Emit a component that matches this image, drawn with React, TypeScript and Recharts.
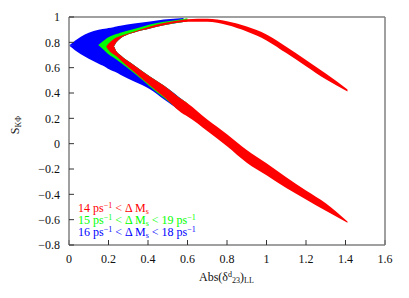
import { ComposedChart, Area, XAxis, YAxis } from "recharts";

// sampled x positions of the band edges, Abs(delta^d_23)_LL
const xs = [0, 0.06, 0.1, 0.15, 0.19, 0.2, 0.225, 0.24, 0.26, 0.33, 0.41, 0.48, 0.58, 0.6, 0.7, 0.8, 0.9, 1.0, 1.1, 1.2, 1.3, 1.41];

// 16 < dMs < 18 (blue)
const blueUpperLo = [0.775, 0.77, 0.768, 0.766, 0.766, 0.766, 0.766, 0.8, 0.83, 0.878, 0.91, 0.935, 0.96];
const blueUpperHi = [0.775, 0.845, 0.875, 0.9, 0.91, 0.913, 0.92, 0.925, 0.93, 0.948, 0.965, 0.98, 0.993];
const blueLowerLo = [0.775, 0.705, 0.67, 0.63, 0.6, 0.59, 0.572, 0.562, 0.545, 0.49, 0.43, 0.35, 0.238];
const blueLowerHi = [0.775, 0.78, 0.772, 0.772, 0.772, 0.772, 0.772, 0.73, 0.7, 0.62, 0.53, 0.46, 0.34];

// 15 < dMs < 19 (green)
const greenUpperLo = [null, null, null, 0.776, 0.766, 0.766, 0.766, 0.8, 0.83, 0.878, 0.91, 0.935, 0.96, 0.965];
const greenUpperHi = [null, null, null, 0.78, 0.83, 0.84, 0.858, 0.865, 0.875, 0.905, 0.94, 0.962, 0.985, 0.99];
const greenLowerLo = [null, null, null, 0.776, 0.72, 0.705, 0.68, 0.665, 0.64, 0.555, 0.45, 0.362, 0.242, 0.225];
const greenLowerHi = [null, null, null, 0.78, 0.772, 0.772, 0.772, 0.73, 0.7, 0.62, 0.53, 0.46, 0.34, 0.32];

// 14 < dMs (red)
const redUpperLo = [null, null, null, null, 0.766, 0.766, 0.766, 0.8, 0.83, 0.878, 0.91, 0.935, 0.96, 0.963, 0.962, 0.936, 0.885, 0.815, 0.715, 0.612, 0.508, 0.412];
const redUpperHi = [null, null, null, null, 0.77, 0.79, 0.825, 0.838, 0.85, 0.885, 0.925, 0.952, 0.978, 0.983, 0.986, 0.966, 0.925, 0.862, 0.765, 0.66, 0.553, 0.428];
const redLowerLo = [null, null, null, null, 0.762, 0.74, 0.705, 0.69, 0.66, 0.565, 0.46, 0.37, 0.232, 0.215, 0.1, -0.02, -0.15, -0.25, -0.35, -0.44, -0.53, -0.625];
const redLowerHi = [null, null, null, null, 0.772, 0.772, 0.772, 0.73, 0.7, 0.62, 0.53, 0.46, 0.34, 0.32, 0.19, 0.075, -0.05, -0.155, -0.265, -0.37, -0.47, -0.615];

const xTicks = [0, 0.2, 0.4, 0.6, 0.8, 1, 1.2, 1.4, 1.6];
const yTicks = [-0.8, -0.6, -0.4, -0.2, 0, 0.2, 0.4, 0.6, 0.8, 1];

const pair = (lo: (number | null)[], hi: (number | null)[], i: number) =>
  lo[i] == null || hi[i] == null ? null : [lo[i], hi[i]];

const data = xs.map((x, i) => ({
  x,
  blueUp: pair(blueUpperLo, blueUpperHi, i),
  blueLow: pair(blueLowerLo, blueLowerHi, i),
  greenUp: pair(greenUpperLo, greenUpperHi, i),
  greenLow: pair(greenLowerLo, greenLowerHi, i),
  redUp: pair(redUpperLo, redUpperHi, i),
  redLow: pair(redLowerLo, redLowerHi, i),
}));

const FONT = "Liberation Serif, Times New Roman, serif";
const tickStyle = { fontFamily: FONT, fontSize: 12, fill: "#111" };
const fmt = (v: number) => (v < 0 ? "\u2212" + Math.abs(v) : String(v));

const sup = { fontSize: 8, position: "relative" as const, top: -4, lineHeight: "8px" };
const sub = { fontSize: 8, position: "relative" as const, top: 2, lineHeight: "8px" };

function LegendLine({ color, top, low, high }: { color: string; top: number; low: string; high?: string }) {
  return (
    <div style={{ position: "absolute", left: 78, top, color, fontFamily: FONT, fontSize: 12, lineHeight: "12px", whiteSpace: "nowrap" }}>
      {low} ps<span style={sup}>{"\u22121"}</span> &lt; Δ M<span style={sub}>s</span>
      {high && (
        <>
          {" "}&lt; {high} ps<span style={sup}>{"\u22121"}</span>
        </>
      )}
    </div>
  );
}

export default function App() {
  const areas = [
    { key: "blueUp", color: "#0000ff" },
    { key: "blueLow", color: "#0000ff" },
    { key: "greenUp", color: "#00ff00" },
    { key: "greenLow", color: "#00ff00" },
    { key: "redUp", color: "#ff0000" },
    { key: "redLow", color: "#ff0000" },
  ];
  return (
    <div style={{ position: "absolute", left: 0, top: 0, width: 409, height: 298, background: "#fff" }}>
      <ComposedChart width={409} height={298} data={data} margin={{ top: 12, right: 19, bottom: 23, left: 9 }}>
        <XAxis
          xAxisId="b"
          dataKey="x"
          type="number"
          domain={[0, 1.6]}
          ticks={xTicks}
          tickFormatter={fmt}
          height={30}
          tickSize={-5}
          tickMargin={14}
          tick={tickStyle}
          axisLine={{ stroke: "#808080", strokeWidth: 1.5 }}
          tickLine={{ stroke: "#333" }}
        />
        <XAxis
          xAxisId="t"
          dataKey="x"
          type="number"
          orientation="top"
          domain={[0, 1.6]}
          ticks={xTicks}
          height={5}
          tickSize={-5}
          tick={false}
          axisLine={{ stroke: "#808080", strokeWidth: 1.5 }}
          tickLine={{ stroke: "#333" }}
        />
        <YAxis
          yAxisId="l"
          type="number"
          domain={[-0.8, 1]}
          ticks={yTicks}
          tickFormatter={fmt}
          width={60}
          tickSize={-5}
          tickMargin={14}
          tick={tickStyle}
          axisLine={{ stroke: "#808080", strokeWidth: 1.5 }}
          tickLine={{ stroke: "#333" }}
        />
        <YAxis
          yAxisId="r"
          type="number"
          orientation="right"
          domain={[-0.8, 1]}
          ticks={yTicks}
          width={5}
          tickSize={-5}
          tick={false}
          axisLine={{ stroke: "#808080", strokeWidth: 1.5 }}
          tickLine={{ stroke: "#333" }}
        />
        {areas.map((a) => (
          <Area
            key={a.key}
            xAxisId="b"
            yAxisId="l"
            dataKey={a.key}
            type="monotoneX"
            stroke="none"
            fill={a.color}
            fillOpacity={1}
            isAnimationActive={false}
            activeDot={false}
          />
        ))}
      </ComposedChart>

      <LegendLine color="#ff0000" top={202} low="14" />
      <LegendLine color="#00ff00" top={214} low="15" high="19" />
      <LegendLine color="#0000ff" top={226} low="16" high="18" />

      <div style={{ position: "absolute", left: 199, top: 271, fontFamily: FONT, fontSize: 12, lineHeight: "12px", whiteSpace: "nowrap", color: "#111" }}>
        Abs(δ<span style={sup}>d</span>
        <span style={sub}>23</span>)<span style={sub}>LL</span>
      </div>

      <div
        style={{
          position: "absolute",
          left: 15,
          top: 125,
          transform: "translate(-50%, -50%) rotate(-90deg)",
          fontFamily: FONT,
          fontSize: 12,
          lineHeight: "12px",
          whiteSpace: "nowrap",
          color: "#111",
        }}
      >
        S<span style={sub}>KΦ</span>
      </div>
    </div>
  );
}
